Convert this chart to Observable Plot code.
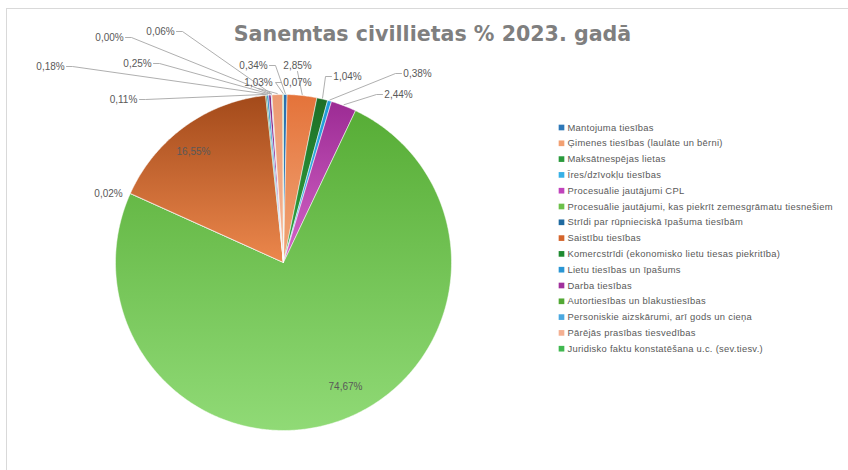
<!DOCTYPE html>
<html><head><meta charset="utf-8">
<script src="https://cdn.jsdelivr.net/npm/d3@7"></script>
<script src="https://cdn.jsdelivr.net/npm/@observablehq/plot@0.6"></script>
<style>body{margin:0;background:#fff}</style>
</head><body><div id="chart"></div>
<script>
// ---- data ----
const title = "Sanemtas civillietas % 2023. gadā";
const categories = [
  "Mantojuma tiesības",
  "Ģimenes tiesības (laulāte un bērni)",
  "Maksātnespējas lietas",
  "Īres/dzīvokļu tiesības",
  "Procesuālie jautājumi CPL",
  "Procesuālie jautājumi, kas piekrīt zemesgrāmatu tiesnešiem",
  "Strīdi par rūpnieciskā īpašuma tiesībām",
  "Saistību tiesības",
  "Komercstrīdi (ekonomisko lietu tiesas piekritība)",
  "Lietu tiesības un īpašums",
  "Darba tiesības",
  "Autortiesības un blakustiesības",
  "Personiskie aizskārumi, arī gods un cieņa",
  "Pārējās prasības tiesvedības",
  "Juridisko faktu konstatēšana u.c. (sev.tiesv.)"
];
const values = [0.34, 2.85, 1.04, 0.38, 2.44, 74.67, 0.02, 16.55, 0.11, 0.18, 0.25, 0.00, 0.06, 1.03, 0.07];

// ---- styles ----
const legendColors = ["#2e78b8","#f2a072","#2a9a3c","#36b0e6","#c043bc","#6cc04a","#1f6aa0","#d4652c","#1e8a30","#2a96d4","#a0309c","#52a834","#4aa8e0","#f4b092","#40b850"];
const colorTop    = ["#2a6fae","#e4733a","#1d6e26","#1f9bd7","#9c2b94","#57ad36","#1f5f92","#a34a1a","#1d7a2c","#2288c8","#862a86","#4a9a30","#3c9ad4","#ec9a72","#3caa48"];
const colorBottom = ["#3a86c8","#f1a678","#31a842","#4cc0f0","#d466c8","#90da76","#2f78b0","#ec874c","#2c9a3c","#3aa6e4","#b648b2","#68bc48","#66bce8","#f6b898","#56c864"];

// ---- layout ----
const W = 848, H = 470;
const cx = 283, cy = 262, R = 168;
// label centre positions and which side the leader leaves from
const labelLayout = [
  [253, 65, "right"], [297, 65, "bottom"], [347, 76, "left"], [417, 73, "left"], [398, 94, "left"],
  [345, 386, "none"], [108, 193, "none"], [193, 151, "none"], [123, 99, "right"], [50, 66, "right"],
  [137, 63, "right"], [109, 37, "right"], [160, 31, "right"], [258, 82, "bottom"], [297, 82, "left"]
];
const legendX = 561, legendY0 = 127, legendStep = 15.8;

// ---- geometry ----
const total = d3.sum(values);
let acc = 0;
const slices = values.map((v, i) => {
  const a0 = acc / total * 2 * Math.PI; acc += v;
  const a1 = acc / total * 2 * Math.PI;
  return {i, a0, a1, mid: (a0 + a1) / 2};
});
const pt = (a, r) => [cx + r * Math.sin(a), cy - r * Math.cos(a)];
const wedgePts = [];
slices.forEach(s => {
  wedgePts.push({key: s.i, x: cx, y: cy, fill: `url(#grad${s.i})`});
  const n = Math.max(2, Math.ceil((s.a1 - s.a0) / (Math.PI / 360)));
  for (let k = 0; k <= n; k++) {
    const a = s.a0 + (s.a1 - s.a0) * k / n;
    const [x, y] = pt(a, R);
    wedgePts.push({key: s.i, x, y, fill: `url(#grad${s.i})`});
  }
  wedgePts.push({key: s.i, x: cx, y: cy, fill: `url(#grad${s.i})`});
});

const fmt = v => v.toFixed(2).replace(".", ",") + "%";
const labelRows = values.map((v, i) => ({x: labelLayout[i][0], y: labelLayout[i][1], text: fmt(v), side: labelLayout[i][2], i}));

const leaderPts = [];
labelRows.forEach(l => {
  if (l.side === "none") return;
  const [ex, ey] = pt(slices[l.i].mid, R + 1);
  let sx = l.x, sy = l.y;
  if (l.side === "right") sx = l.x + 16;
  if (l.side === "left") sx = l.x - 16;
  if (l.side === "bottom") sy = l.y + 6;
  leaderPts.push({key: l.i, x: sx, y: sy});
  if (l.side === "right") leaderPts.push({key: l.i, x: sx + 6, y: sy});
  if (l.side === "left") leaderPts.push({key: l.i, x: sx - 6, y: sy});
  leaderPts.push({key: l.i, x: ex, y: ey});
});

const legendRows = categories.map((c, i) => ({name: c, color: legendColors[i], x: legendX, y: legendY0 + i * legendStep}));

const plot = Plot.plot({
  width: W, height: H, margin: 0,
  x: {domain: [0, W], range: [0, W], axis: null},
  y: {domain: [0, H], range: [0, H], axis: null},
  color: {type: "identity"},
  style: {fontFamily: "'Liberation Sans', Arial, sans-serif", background: "#fff"},
  marks: [
    Plot.ruleY([8], {x1: 6, x2: W, stroke: "#d9d9d9"}),
    Plot.ruleX([6], {y1: 8, y2: H, stroke: "#d9d9d9"}),
    Plot.line(wedgePts, {x: "x", y: "y", z: "key", fill: "fill", stroke: "#ffffff", strokeWidth: 0.5, curve: "linear"}),
    Plot.line(leaderPts, {x: "x", y: "y", z: "key", stroke: "#a6a6a6", strokeWidth: 0.9, curve: "linear"}),
    Plot.text(labelRows, {x: "x", y: "y", text: "text", fill: "#595959", fontSize: 10}),
    Plot.dot(legendRows, {x: "x", y: "y", symbol: "square", r: 3.2, fill: "color", stroke: null}),
    Plot.text(legendRows, {x: d => d.x + 6, y: "y", text: "name", textAnchor: "start", fill: "#595959", fontSize: 9.4, className: "legend-text"}),
    Plot.text([title], {x: () => 432, y: () => 34, text: d => d, fontSize: 20.6, fontWeight: "bold", fill: "#7f7f7f", fontFamily: "'DejaVu Sans', sans-serif"})
  ]
});

d3.select(plot).selectAll(".legend-text text").style("letter-spacing", "0.28px");
const defs = d3.select(plot).insert("defs", ":first-child");
colorTop.forEach((c, i) => {
  const g = defs.append("linearGradient").attr("id", "grad" + i).attr("x1", 0).attr("y1", 0).attr("x2", 0).attr("y2", 1);
  g.append("stop").attr("offset", 0).attr("stop-color", c);
  g.append("stop").attr("offset", 1).attr("stop-color", colorBottom[i]);
});
document.getElementById("chart").appendChild(plot);
</script>
</body></html>
